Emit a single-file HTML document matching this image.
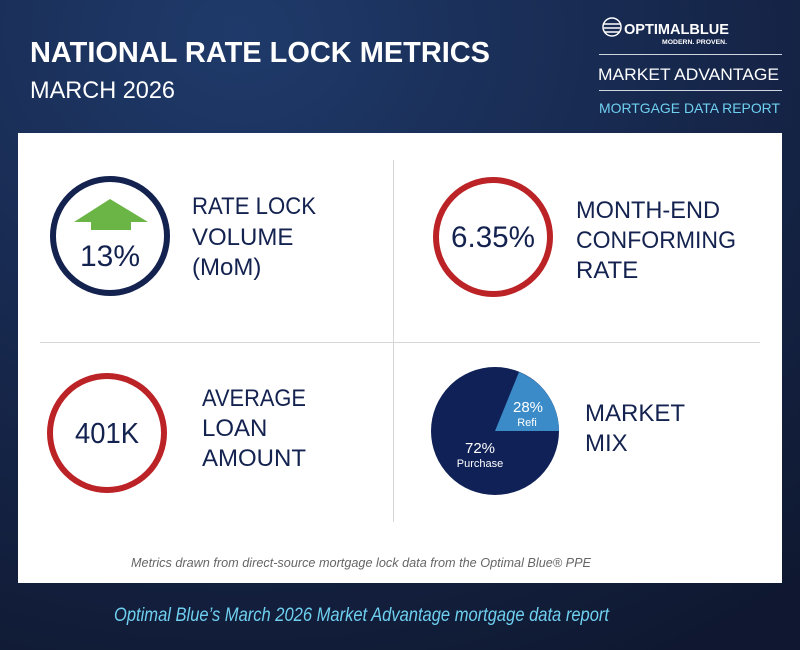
<!DOCTYPE html>
<html><head><meta charset="utf-8"><style>html,body{margin:0;padding:0;background:#142040}svg{display:block}</style></head>
<body>
<svg width="800" height="650" viewBox="0 0 800 650" xmlns="http://www.w3.org/2000/svg" font-family="Liberation Sans, sans-serif">
<defs>
<radialGradient id="bg" cx="0.3" cy="0.05" r="1.1">
<stop offset="0" stop-color="#1f3a6a"/><stop offset="0.55" stop-color="#16264a"/><stop offset="1" stop-color="#0f1830"/>
</radialGradient>
</defs>
<rect width="800" height="650" fill="url(#bg)"/>
<text x="30" y="62" font-size="29" font-weight="bold" fill="#fff" textLength="460" lengthAdjust="spacingAndGlyphs">NATIONAL RATE LOCK METRICS</text>
<text x="30" y="98" font-size="24" fill="#fff" textLength="145" lengthAdjust="spacingAndGlyphs">MARCH 2026</text>
<!-- logo -->
<g fill="none" stroke="#fff" stroke-width="1.5">
<circle cx="612" cy="27" r="9"/><path d="M604 24h16M604 28h16M605 32h14"/>
</g>
<text x="624" y="34" font-size="15" font-weight="bold" fill="#fff" textLength="105" lengthAdjust="spacingAndGlyphs">OPTIMALBLUE</text>
<text x="662" y="44" font-size="6" font-weight="bold" fill="#fff" textLength="65" lengthAdjust="spacingAndGlyphs">MODERN. PROVEN.</text>
<rect x="599" y="54" width="183" height="1" fill="#cfd6e0"/>
<text x="598" y="80" font-size="17" fill="#fff" textLength="181" lengthAdjust="spacingAndGlyphs">MARKET ADVANTAGE</text>
<rect x="599" y="90" width="183" height="1" fill="#cfd6e0"/>
<text x="599" y="113" font-size="14" fill="#6fd0f0" textLength="181" lengthAdjust="spacingAndGlyphs">MORTGAGE DATA REPORT</text>
<!-- card -->
<rect x="18" y="133" width="764" height="450" fill="#fff"/>
<rect x="393" y="160" width="1" height="362" fill="#d6d6d6"/>
<rect x="40" y="342" width="720" height="1" fill="#d6d6d6"/>
<!-- top-left -->
<circle cx="110" cy="236" r="57" fill="none" stroke="#13224f" stroke-width="6"/>
<path d="M110 199L148 222H131V230H91V222H74Z" fill="#6ab545"/>
<text x="110" y="266" font-size="30" fill="#13224f" text-anchor="middle">13%</text>
<g font-size="24" fill="#13224f">
<text x="192" y="214" textLength="124" lengthAdjust="spacingAndGlyphs">RATE LOCK</text>
<text x="192" y="245">VOLUME</text>
<text x="192" y="275">(MoM)</text>
</g>
<!-- top-right -->
<circle cx="493" cy="237" r="57" fill="none" stroke="#bb2327" stroke-width="6"/>
<text x="493" y="247" font-size="30" fill="#13224f" text-anchor="middle" textLength="84" lengthAdjust="spacingAndGlyphs">6.35%</text>
<g font-size="24" fill="#13224f">
<text x="576" y="218" textLength="144" lengthAdjust="spacingAndGlyphs">MONTH-END</text>
<text x="576" y="248" textLength="160" lengthAdjust="spacingAndGlyphs">CONFORMING</text>
<text x="576" y="278">RATE</text>
</g>
<!-- bottom-left -->
<circle cx="107" cy="433" r="57" fill="none" stroke="#bb2327" stroke-width="6"/>
<text x="107" y="443" font-size="29" fill="#13224f" text-anchor="middle" textLength="64" lengthAdjust="spacingAndGlyphs">401K</text>
<g font-size="24" fill="#13224f">
<text x="202" y="406" textLength="104" lengthAdjust="spacingAndGlyphs">AVERAGE</text>
<text x="202" y="436">LOAN</text>
<text x="202" y="466" textLength="104" lengthAdjust="spacingAndGlyphs">AMOUNT</text>
</g>
<!-- pie -->
<circle cx="495" cy="431" r="64" fill="#0f2157"/>
<path d="M495 431L519 372A64 64 0 0 1 559 431Z" fill="#3a8bc7"/>
<text x="528" y="412" font-size="15" fill="#fff" text-anchor="middle">28%</text>
<text x="527" y="426" font-size="11" fill="#fff" text-anchor="middle">Refi</text>
<text x="480" y="453" font-size="15" fill="#fff" text-anchor="middle">72%</text>
<text x="480" y="467" font-size="11" fill="#fff" text-anchor="middle">Purchase</text>
<g font-size="24" fill="#13224f">
<text x="585" y="421">MARKET</text>
<text x="585" y="451">MIX</text>
</g>
<text x="131" y="567" font-size="13" font-style="italic" fill="#666" textLength="460" lengthAdjust="spacingAndGlyphs">Metrics drawn from direct-source mortgage lock data from the Optimal Blue® PPE</text>
<text x="114" y="621" font-size="19" font-style="italic" fill="#6fd0f0" textLength="495" lengthAdjust="spacingAndGlyphs">Optimal Blue’s March 2026 Market Advantage mortgage data report</text>
</svg>
</body></html>
